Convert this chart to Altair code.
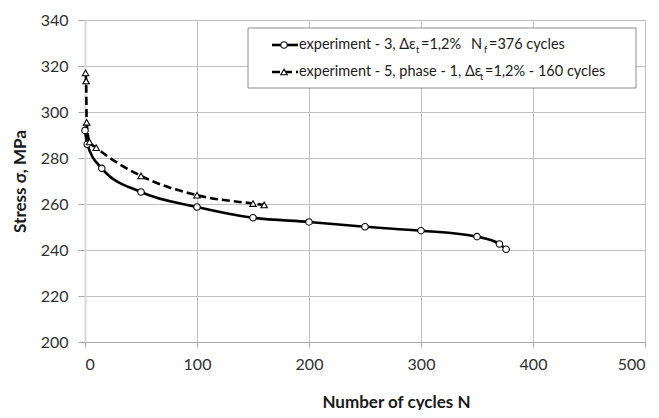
import altair as alt
import pandas as pd

# ---- data ----
exp3_cycles = [0, 2, 15, 50, 100, 150, 200, 250, 300, 350, 370, 376]
exp3_stress = [292, 286, 275.5, 265.2, 258.7, 254, 252.2, 250.1, 248.4, 245.8, 242.6, 240.3]

exp5_cycles = [0.5, 1, 1.5, 4, 10, 50, 100, 150, 160]
exp5_stress = [317, 313.5, 295.5, 287, 284.5, 272.2, 263.8, 260.2, 259.6]

x_ticks = [0, 100, 200, 300, 400, 500]
y_ticks = [200, 220, 240, 260, 280, 300, 320, 340]

x_title = "Number of cycles N"
y_title = "Stress σ, MPa"

FONT = "Lato"

df3 = pd.DataFrame({"N": exp3_cycles, "S": exp3_stress})
df5 = pd.DataFrame({"N": exp5_cycles, "S": exp5_stress})
one = pd.DataFrame({"k": [0]})

xs = alt.Scale(domain=[0, 500], nice=False)
ys = alt.Scale(domain=[200, 340], nice=False, zero=False)

x_enc = alt.X("N:Q", scale=xs, axis=alt.Axis(
    values=x_ticks, title=x_title, grid=True, gridColor="#bfbfbf",
    domainColor="#a6a6a6", tickColor="#a6a6a6", tickSize=5,
    labelFont=FONT, labelFontSize=16, labelColor="#303030", labelPadding=9,
    titleFont=FONT, titleFontSize=17, titleFontWeight="bold", titleColor="#1a1a1a",
    titleX=311, titleY=60, titleBaseline="middle", titleAlign="center",
))
y_enc = alt.Y("S:Q", scale=ys, axis=alt.Axis(
    values=y_ticks, title=y_title, grid=True, gridColor="#bfbfbf",
    domainColor="#d9d9d9", domainWidth=2, tickColor="#a6a6a6", tickSize=7,
    labelFont=FONT, labelFontSize=16, labelColor="#303030", labelPadding=10,
    titleFont=FONT, titleFontSize=17, titleFontWeight="bold", titleColor="#1a1a1a",
    titleX=-65, titleY=161, titleBaseline="middle", titleAlign="center", titleAngle=270,
))

line3 = alt.Chart(df3).mark_line(color="black", strokeWidth=2.6, interpolate="monotone").encode(x=x_enc, y=y_enc)
pts3 = alt.Chart(df3).mark_point(shape="circle", filled=True, fill="white", stroke="black",
                                 strokeWidth=1.1, size=42, opacity=1).encode(x="N:Q", y="S:Q")
line5 = alt.Chart(df5).mark_line(color="black", strokeWidth=2.6, strokeDash=[8, 4],
                                 interpolate="monotone").encode(x="N:Q", y="S:Q")
pts5 = alt.Chart(df5).mark_point(shape="triangle-up", filled=True, fill="white", stroke="black",
                                 strokeWidth=1.1, size=42, opacity=1).encode(x="N:Q", y="S:Q")

# ---- legend (drawn by hand, pixel positions inside the plot area) ----
R1, R2 = 25, 52
FS = 14.5
box = alt.Chart(one).mark_rect(fill="white", stroke="#8c8c8c", strokeWidth=1).encode(
    x=alt.value(163), x2=alt.value(551), y=alt.value(8), y2=alt.value(68))
s1 = alt.Chart(one).mark_rule(color="black", strokeWidth=2.6).encode(
    x=alt.value(187), x2=alt.value(213), y=alt.value(R1))
s2 = alt.Chart(one).mark_rule(color="black", strokeWidth=2.6, strokeDash=[8, 4]).encode(
    x=alt.value(187), x2=alt.value(213), y=alt.value(R2))
p1 = alt.Chart(one).mark_point(shape="circle", filled=True, fill="white", stroke="black",
                               strokeWidth=1.1, size=42, opacity=1).encode(x=alt.value(199), y=alt.value(R1))
p2 = alt.Chart(one).mark_point(shape="triangle-up", filled=True, fill="white", stroke="black",
                               strokeWidth=1.1, size=42, opacity=1).encode(x=alt.value(199), y=alt.value(R2))


def txt(s, x, y, size=FS):
    return alt.Chart(one).mark_text(text=s, align="left", baseline="middle", font=FONT,
                                    fontSize=size, color="#1a1a1a").encode(x=alt.value(x), y=alt.value(y))


legend_txt = [
    txt("experiment - 3, Δε", 214, R1), txt("t", 331, R1 + 5, 9), txt("=1,2%", 336, R1),
    txt("N", 386, R1), txt("f", 399, R1 + 5, 9), txt("=376 cycles", 404, R1),
    txt("experiment - 5, phase - 1, Δε", 214, R2), txt("t", 395, R2 + 5, 9),
    txt("=1,2% - 160 cycles", 400, R2),
]

chart = alt.layer(line3, line5, pts3, pts5, box, s1, s2, p1, p2, *legend_txt).properties(
    width=560, height=322,
    autosize=alt.AutoSizeParams(type="none"),
    padding={"left": 77, "top": 12, "right": 6, "bottom": 68},
).configure_view(stroke=None)

chart.save("out.html", embed_options={"renderer": "svg", "actions": False})
